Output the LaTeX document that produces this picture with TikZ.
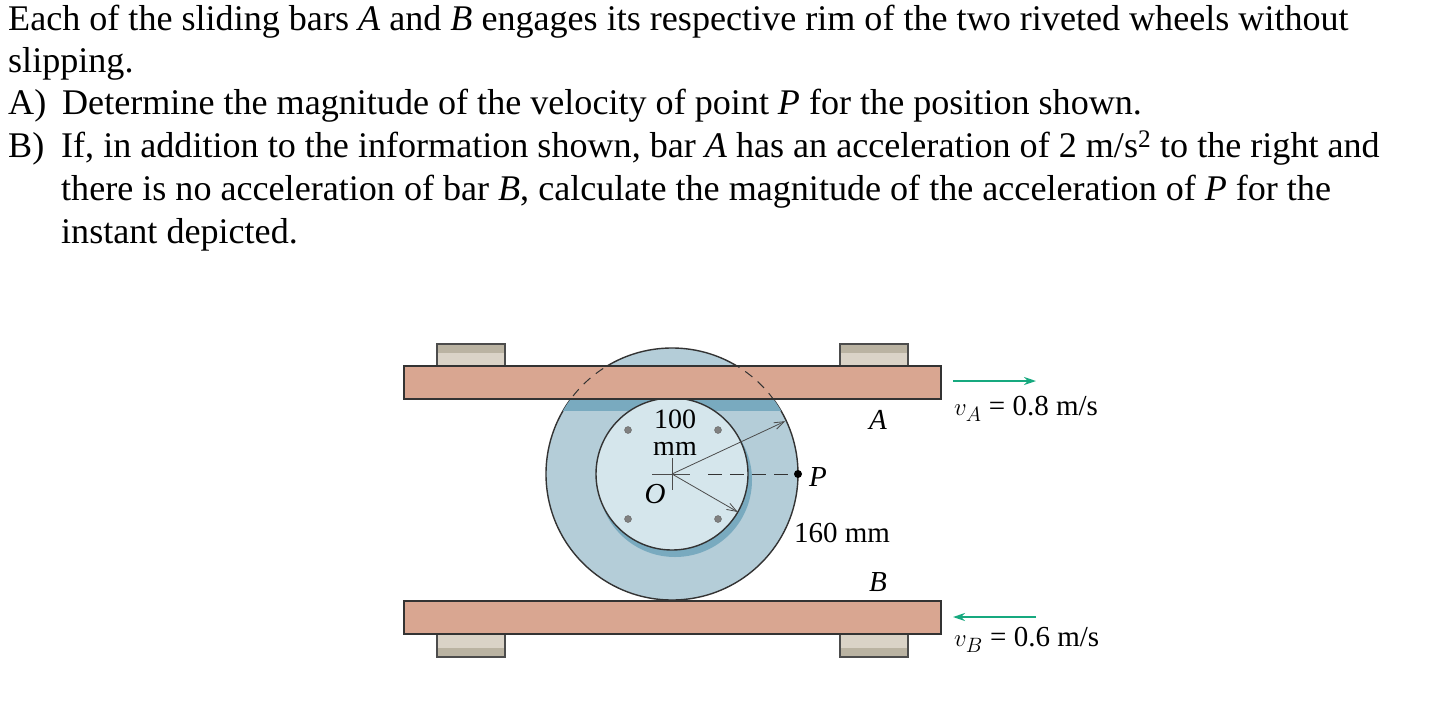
\documentclass[tikz,border=0pt]{standalone}
\usepackage{fontspec}
\setmainfont{Liberation Serif}
\usetikzlibrary{arrows.meta}
\definecolor{bar}{HTML}{D9A691}
\definecolor{outer}{HTML}{B4CDD8}
\definecolor{inner}{HTML}{D5E6EC}
\definecolor{band}{HTML}{79AABF}
\definecolor{blkd}{HTML}{BAB3A2}
\definecolor{blkl}{HTML}{DAD3C7}
\definecolor{grn}{HTML}{17A97F}
\tikzset{
 txt/.style={anchor=base west,inner sep=0pt,font=\fontsize{36.1}{36}\selectfont},
 lbl/.style={inner sep=0pt,font=\fontsize{29}{29}\selectfont},
 ilbl/.style={inner sep=0pt,font=\fontsize{29}{29}\selectfont\itshape},
 barbox/.style={fill=bar,draw=black!80,line width=1.4pt},
 blk/.style={draw=black!70,line width=1.2pt},
 rivet/.style={circle,fill=gray,draw=black!60,inner sep=0pt,minimum size=7pt},
 velarrow/.style={grn,line width=2pt,-{Stealth[length=12pt,width=8pt]}},
 dimarrow/.style={black!70,line width=0.8pt,-{Straight Barb[length=10pt,width=7pt]}}
}
\begin{document}
\begin{tikzpicture}[x=1pt,y=-1pt]
\useasboundingbox (0,0) rectangle (1443,702);
% text
\node[txt] (t1) at (8,30) {Each of the sliding bars \textit{A} and \textit{B} engages its respective rim of the two riveted wheels without};
\node[txt] (t2) at (8,72) {slipping.};
\node[txt] (t3) at (8,114) {\makebox[54pt][l]{A)}Determine the magnitude of the velocity of point \textit{P} for the position shown.};
\node[txt] (t4) at (8,157) {\makebox[53pt][l]{B)}If, in addition to the information shown, bar \textit{A} has an acceleration of 2 m/s\textsuperscript{2} to the right and};
\node[txt] (t5) at (61,200) {there is no acceleration of bar \textit{B}, calculate the magnitude of the acceleration of \textit{P} for the};
\node[txt] (t6) at (61,243) {instant depicted.};
% blocks
\foreach \x in {437,840}{
 \fill[blkl] (\x,344) rectangle (\x+68,366);
 \fill[blkd] (\x,344) rectangle (\x+68,353);
 \draw[blk] (\x,366) -- (\x,344) -- (\x+68,344) -- (\x+68,366);
 \fill[blkl] (\x,634) rectangle (\x+68,657);
 \fill[blkd] (\x,648) rectangle (\x+68,657);
 \draw[blk] (\x,634) -- (\x,657) -- (\x+68,657) -- (\x+68,634);
}
% wheel
\coordinate (O) at (672,474);
\fill[outer,draw=black!80,line width=1.4pt] (O) circle (126);
\begin{scope}
 \clip (O) circle (126);
 \fill[band] (540,399) rectangle (810,411);
\end{scope}
\fill[band] (O) ++(3,6) circle (77);
\fill[inner,draw=black!80,line width=1.4pt] (O) circle (76);
% bars
\draw[barbox] (404,366) rectangle (941,399);
\draw[barbox] (404,601) rectangle (941,634);
\begin{scope}
 \clip (404,366) rectangle (941,399);
 \draw[black!80,dash pattern=on 9pt off 7pt,line width=1pt] (O) circle (126);
\end{scope}
% rivets
\foreach \p in {(628,430),(718,430),(628,519),(718,519)} \node[rivet] at \p {};
% centre mark
\draw[black!70,line width=0.7pt] (652,474) -- (690,474) (672,458) -- (672,490);
\node[circle,fill=black,inner sep=0pt,minimum size=8pt] (P) at (798,474) {};
\draw[black!80,line width=1pt,dash pattern=on 14pt off 8pt] (708,474) -- (P);
\draw[dimarrow] (O) -- ++(30:76);
\draw[dimarrow] (O) -- ++(-25:125);
% labels
\node[lbl,font=\fontsize{28}{27}\selectfont,align=center] (r1) at (675,433) {100\\mm};
\node[ilbl] (Ol) at (655,494) {O};
\node[ilbl] (Pl) at (818,477) {P};
\node[lbl] (r2) at (842,533) {160 mm};
\node[ilbl] (Al) at (878,420) {A};
\node[ilbl] (Bl) at (878,582) {B};
% velocities
\coordinate (a1) at (953,381); \coordinate (a2) at (1036,381);
\draw[velarrow] (a1) -- (a2);
\node[lbl,anchor=west] (vA) at (954,409) {$v_A$ = 0.8 m/s};
\coordinate (b1) at (1036,617); \coordinate (b2) at (953,617);
\draw[velarrow] (b1) -- (b2);
\node[lbl,anchor=west] (vB) at (954,640) {$v_B$ = 0.6 m/s};
\end{tikzpicture}
\end{document}
